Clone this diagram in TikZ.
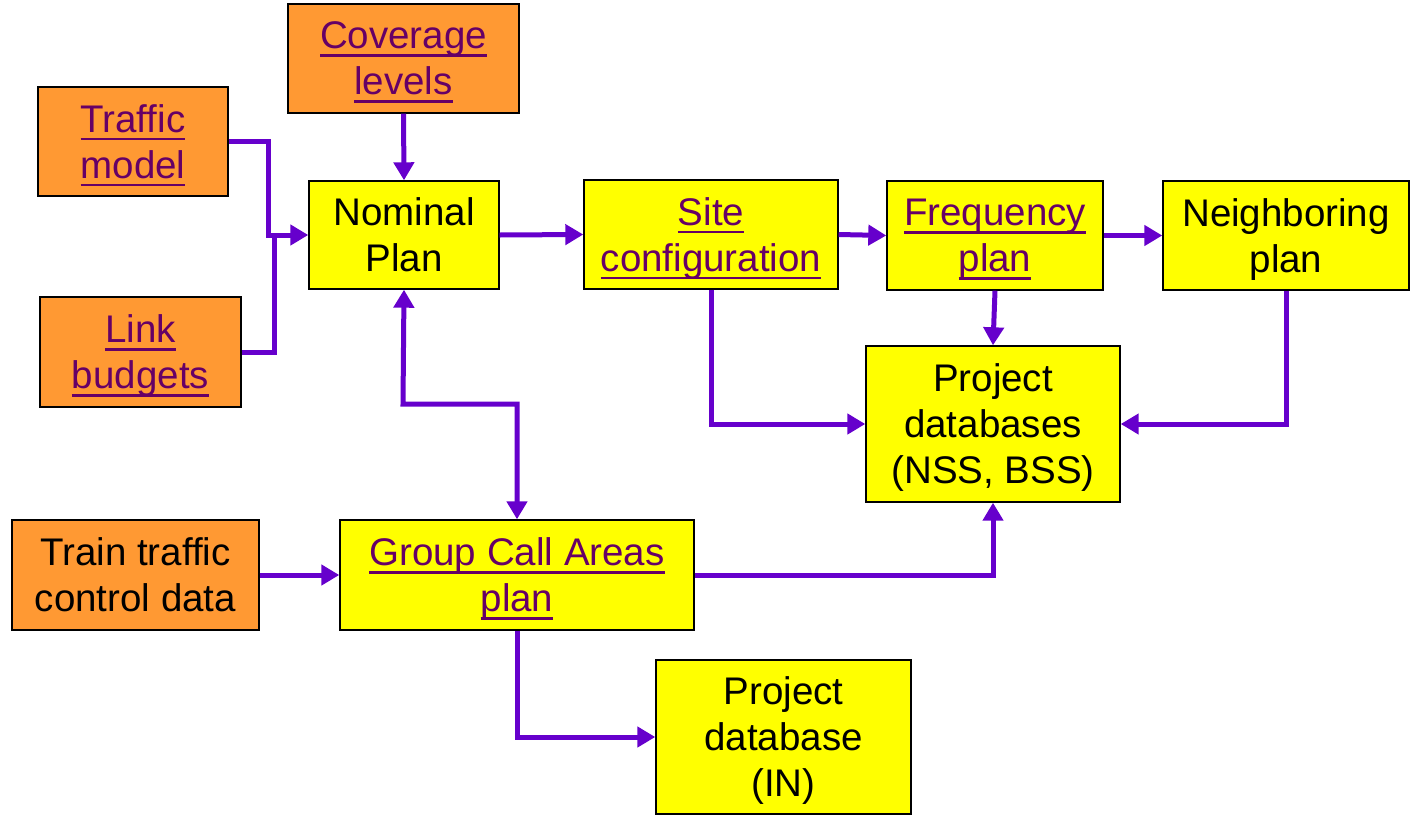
\documentclass[tikz,border=0pt]{standalone}
\usepackage{fontspec}
\setmainfont{Liberation Sans}
\usetikzlibrary{arrows.meta}
\definecolor{boxorange}{HTML}{FF9933}
\definecolor{boxyellow}{HTML}{FFFF00}
\definecolor{arrowpurple}{HTML}{6600CC}
\definecolor{linkpurple}{HTML}{660066}
\newcommand\lnk[1]{\leavevmode\setbox0\hbox{#1}\rlap{\smash{\rule[-8pt]{\wd0}{2.6pt}}}\box0}
\newcommand\nd[1]{\raisebox{0pt}[\height][0pt]{#1}}
\tikzset{
  box/.style={draw=black, line width=1.4pt, align=center, inner sep=0pt,
    font=\fontsize{38.5}{46}\selectfont},
  obox/.style={box, fill=boxorange},
  ybox/.style={box, fill=boxyellow},
  linktext/.style={text=linkpurple},
  flow/.style={draw=arrowpurple, line width=5pt, -{Triangle[length=18pt,width=20pt]}},
  flowtwo/.style={draw=arrowpurple, line width=5pt, {Triangle[length=18pt,width=20pt]}-{Triangle[length=18pt,width=20pt]}},
  plain/.style={draw=arrowpurple, line width=5pt}
}
\begin{document}
\begin{tikzpicture}[x=1pt,y=-1pt]
\useasboundingbox (0,0) rectangle (1410,814);
% nodes
\node[obox, linktext, minimum width=231pt, minimum height=109pt] (cov) at (403.5,58.5) {\lnk{Coverage}\\\nd{\lnk{levels}}};
\node[obox, linktext, minimum width=190pt, minimum height=109pt] (traffic) at (133,141.5) {\lnk{Traffic}\\\nd{\lnk{model}}};
\node[obox, linktext, minimum width=201pt, minimum height=110pt] (link) at (140.5,352) {\lnk{Link}\\\nd{\lnk{budgets}}};
\node[ybox, minimum width=190pt, minimum height=108pt] (nominal) at (404,235) {Nominal\\\nd{Plan}};
\node[ybox, linktext, minimum width=254pt, minimum height=109pt] (site) at (711,234.5) {\lnk{Site}\\\nd{\lnk{configuration}}};
\node[ybox, linktext, minimum width=216pt, minimum height=109pt] (freq) at (995,235.5) {\lnk{Frequency}\\\nd{\lnk{plan}}};
\node[ybox, minimum width=246pt, minimum height=109pt] (neigh) at (1286,235.5) {Neighboring\\\nd{plan}};
\node[ybox, minimum width=254pt, minimum height=156pt] (pdb) at (993,424) {Project\\databases\\\nd{(NSS, BSS)}};
\node[obox, minimum width=247pt, minimum height=110pt] (train) at (135.5,575) {Train traffic\\\nd{control data}};
\node[ybox, linktext, minimum width=354pt, minimum height=110pt] (gca) at (517,575) {\lnk{Group Call Areas}\\\nd{\lnk{plan}}};
\node[ybox, minimum width=255pt, minimum height=154pt] (pdbin) at (783.5,737) {Project\\database\\\nd{(IN)}};
% junction coordinates
\coordinate (tj) at (268,141);
\coordinate (lj) at (274,235);
\coordinate (nj) at (403,404);
% connectors
\draw[flow] (cov.south) -- (nominal.north);
\draw[flow] (traffic.east |- tj) -- (tj) |- (nominal.west);
\draw[plain] (link.east) -| (lj);
\draw[flow] (nominal.east) -- (site.west);
\draw[flow] (site.east) -- (freq.west);
\draw[flow] (freq.east) -- (neigh.west);
\draw[flow] (freq.south) -- (pdb.north);
\draw[flow] (site.south) |- (pdb.west);
\draw[flow] (neigh.south) |- (pdb.east);
\draw[flowtwo] (nominal.south) -- (nj) -| (gca.north);
\draw[flow] (train.east) -- (gca.west);
\draw[flow] (gca.east) -| (pdb.south);
\draw[flow] (gca.south) |- (pdbin.west);
\end{tikzpicture}
\end{document}
